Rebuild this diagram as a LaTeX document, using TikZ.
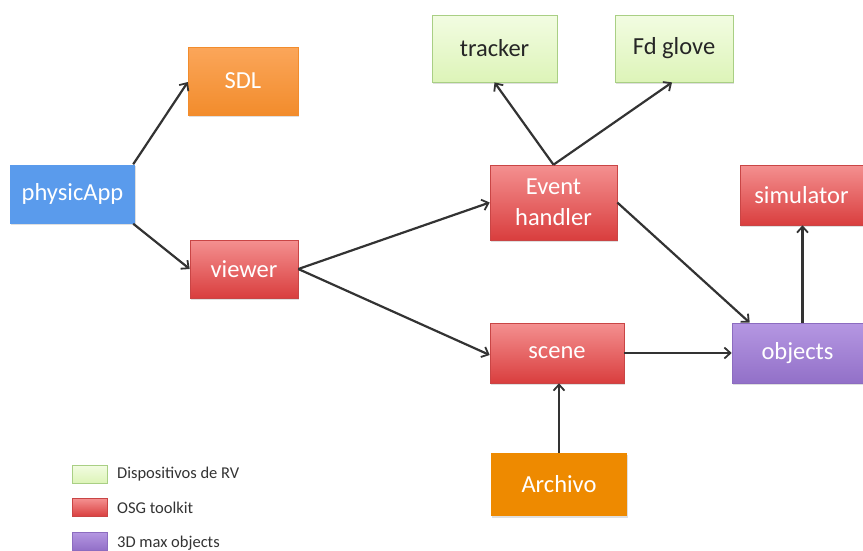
\documentclass[tikz,border=0pt]{standalone}
\usepackage{fontspec}
\setmainfont{Carlito}
\usetikzlibrary{arrows.meta,calc,shadows}
\definecolor{redtop}{HTML}{F49090}
\definecolor{redbot}{HTML}{D93E3E}
\definecolor{redline}{HTML}{C94545}
\definecolor{greentop}{HTML}{F2FCE2}
\definecolor{greenbot}{HTML}{DDF4B8}
\definecolor{greenline}{HTML}{A9CF84}
\definecolor{purtop}{HTML}{B597E2}
\definecolor{purbot}{HTML}{9270C8}
\definecolor{purline}{HTML}{8C6CC0}
\definecolor{sdltop}{HTML}{FBA65A}
\definecolor{sdlbot}{HTML}{F28C2C}
\definecolor{bluebox}{HTML}{5A9BEC}
\definecolor{archbox}{HTML}{EE8A00}
\definecolor{arrowc}{HTML}{333333}
\tikzset{
  box/.style={rectangle, inner sep=2pt, align=center, font=\fontsize{24.5}{31}\selectfont,
    drop shadow={shadow xshift=1pt, shadow yshift=-1.5pt, opacity=0.25}},
  redbox/.style={box, top color=redtop, bottom color=redbot, draw=redline, line width=0.6pt, text=white},
  greenbox/.style={box, top color=greentop, bottom color=greenbot, draw=greenline, line width=0.8pt, text=black!85},
  purbox/.style={box, top color=purtop, bottom color=purbot, draw=purline, line width=0.6pt, text=white},
  sdlbox/.style={box, top color=sdltop, bottom color=sdlbot, draw=sdlbot, line width=0.4pt, text=white},
  bluestyle/.style={box, fill=bluebox, text=white},
  archstyle/.style={box, fill=archbox, text=white},
  conn/.style={draw=arrowc, line width=2.2pt, -{Straight Barb[length=6pt,width=11pt,line width=1.8pt]}},
  legbox/.style={rectangle, minimum width=35pt, minimum height=18pt, inner sep=0pt, line width=0.8pt},
  legtext/.style={anchor=west, font=\fontsize{16.5}{18}\selectfont, text=black!80, inner sep=0pt}
}
\begin{document}
\begin{tikzpicture}[x=1pt,y=-1pt]
\useasboundingbox (0,0) rectangle (863,550);
\node[bluestyle, minimum width=125pt, minimum height=59pt] (phys) at (72.5,194) {physicApp};
\node[sdlbox, minimum width=110pt, minimum height=68pt] (sdl) at (243,81) {SDL};
\node[redbox, minimum width=108pt, minimum height=58pt] (viewer) at (244,269) {viewer};
\node[greenbox, minimum width=125pt, minimum height=67pt] (tracker) at (494.5,48.5) {tracker};
\node[greenbox, minimum width=118pt, minimum height=67pt] (glove) at (674,48.5) {Fd glove};
\node[redbox, minimum width=127pt, minimum height=75pt] (event) at (553.5,202.5) {Event\\handler};
\node[redbox, minimum width=123pt, minimum height=60pt] (sim) at (801.5,195) {simulator};
\node[redbox, minimum width=134pt, minimum height=60pt] (scene) at (557,353) {scene};
\node[purbox, minimum width=131pt, minimum height=60pt] (obj) at (797.5,353) {objects};
\node[archstyle, minimum width=136pt, minimum height=63pt] (arch) at (559,484.5) {Archivo};

\coordinate (objtop) at ($(obj.north)+(5,0)$);
\coordinate (simbot) at ($(sim.south)+(1,0)$);
\coordinate (objnw) at ($(obj.north west)+(18,0)$);

\draw[conn] ($(phys.north east)+(-2,0)$) -- ($(sdl.west)+(0,1)$);
\draw[conn] ($(phys.south east)+(-2,0)$) -- (viewer.west);
\draw[conn] (viewer.east) -- (event.west);
\draw[conn] (viewer.east) -- ($(scene.west)+(0,2)$);
\draw[conn] (event.north) -- (tracker.south);
\draw[conn] (event.north) -- ($(glove.south)+(-2,0)$);
\draw[conn] (event.east) -- (objnw);
\draw[conn] (scene.east) -- (obj.west);
\draw[conn] (objtop) -- (simbot);
\draw[conn] (arch.north) -- (arch.north |- scene.south);

\node[legbox, top color=greentop, bottom color=greenbot, draw=greenline] (lg1) at (89.5,474) {};
\node[legbox, top color=redtop, bottom color=redbot, draw=redline] (lg2) at (89.5,507.5) {};
\node[legbox, top color=purtop, bottom color=purbot, draw=purline] (lg3) at (89.5,541) {};
\node[legtext] (lt1) at (117,474) {Dispositivos de RV};
\node[legtext] (lt2) at (117,507.5) {OSG toolkit};
\node[legtext] (lt3) at (117,543) {3D max objects};
\end{tikzpicture}
\end{document}
